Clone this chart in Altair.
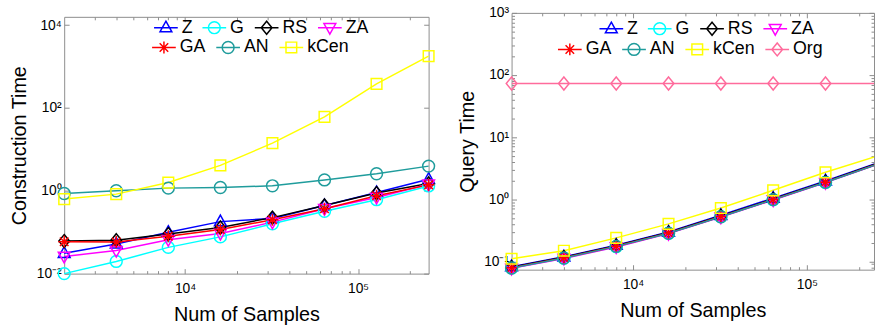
import altair as alt
import pandas as pd

# ---------------- data ----------------
N = [2000, 4000, 8000, 16000, 32000, 64000, 128000, 256000]

SERIES_BUILD = ["Z", "G", "RS", "ZA", "GA", "AN", "kCen"]
SERIES_QUERY = ["Z", "G", "RS", "ZA", "GA", "AN", "kCen", "Org"]
LEGEND_ROW1 = ["Z", "G", "RS", "ZA"]
LEGEND_ROW2_BUILD = ["GA", "AN", "kCen"]
LEGEND_ROW2_QUERY = ["GA", "AN", "kCen", "Org"]

build_Z = [0.031, 0.052, 0.10, 0.18, 0.215, 0.44, 0.91, 1.9]
build_G = [0.010, 0.0197, 0.043, 0.077, 0.16, 0.32, 0.61, 1.31]
build_RS = [0.061, 0.064, 0.090, 0.13, 0.225, 0.44, 0.88, 1.5]
build_ZA = [0.026, 0.036, 0.066, 0.093, 0.175, 0.37, 0.69, 1.44]
build_GA = [0.059, 0.058, 0.080, 0.116, 0.20, 0.37, 0.76, 1.39]
build_AN = [0.86, 1.0, 1.16, 1.2, 1.32, 1.83, 2.58, 3.94]
build_kCen = [0.63, 0.83, 1.58, 4.1, 14.1, 61, 380, 1790]

query_Z = [0.082, 0.118, 0.182, 0.296, 0.55, 1.04, 1.97, 3.85]
query_G = [0.078, 0.112, 0.172, 0.282, 0.52, 0.98, 1.86, 3.66]
query_RS = [0.080, 0.116, 0.178, 0.29, 0.535, 1.01, 1.92, 3.78]
query_ZA = [0.077, 0.111, 0.170, 0.279, 0.515, 0.97, 1.85, 3.64]
query_GA = [0.079, 0.114, 0.175, 0.285, 0.525, 0.99, 1.88, 3.70]
query_AN = [0.078, 0.113, 0.174, 0.283, 0.522, 0.985, 1.87, 3.68]
query_kCen = [0.110, 0.148, 0.238, 0.40, 0.72, 1.39, 2.71, 5.0]
query_Org = [73, 73, 73, 73, 73, 73, 73, 73]

X_MAJOR = [1e4, 1e5]
X_MINOR = [3000, 4000, 5000, 6000, 7000, 8000, 9000,
           20000, 30000, 40000, 50000, 60000, 70000, 80000, 90000, 200000]
Y_MAJOR_BUILD = [1e-2, 1, 1e2, 1e4]
Y_MAJOR_QUERY = [0.1, 1, 10, 100, 1000]
Y_MINOR_QUERY = [0.08, 0.09, 0.2, 0.3, 0.4, 0.5, 0.6, 0.7, 0.8, 0.9,
                 2, 3, 4, 5, 6, 7, 8, 9, 20, 30, 40, 50, 60, 70, 80, 90,
                 200, 300, 400, 500, 600, 700, 800, 900]

COLORS = {"Z": "#0000ff", "G": "#00ffff", "RS": "#000000", "ZA": "#ff00ff",
          "GA": "#ff0000", "AN": "#1f9c9c", "kCen": "#ffff00", "Org": "#ff6b9c"}

TRI_UP = "M0,-1.1L1,0.7L-1,0.7Z"
CIRCLE = "M1,0A1,1,0,1,1,-1,0A1,1,0,1,1,1,0Z"
DIAMOND = "M0,-1.1L0.9,0L0,1.1L-0.9,0Z"
TRI_DN = "M0,1.1L1,-0.7L-1,-0.7Z"
STAR = "M0,-1V1M-1,0H1M-0.72,-0.72L0.72,0.72M-0.72,0.72L0.72,-0.72"
SQUARE = "M-0.9,-0.9H0.9V0.9H-0.9Z"
MARKERS = {"Z": TRI_UP, "G": CIRCLE, "RS": DIAMOND, "ZA": TRI_DN,
           "GA": STAR, "AN": CIRCLE, "kCen": SQUARE, "Org": DIAMOND}
LEG_LINE = "M-2,0H2"

GRAY = "#8c8c8c"
FONT = "Liberation Sans"
LBL = "'10' + ['⁻²','⁻¹','⁰','¹','²','³','⁴','⁵'][round(log(datum.value)/LN10)+2]"


def long_df(names, arrays):
    rows = []
    for name, arr in zip(names, arrays):
        for n, v in zip(N, arr):
            rows.append({"n": n, "v": v, "series": name})
    return pd.DataFrame(rows)


df_build = long_df(SERIES_BUILD, [build_Z, build_G, build_RS, build_ZA,
                                  build_GA, build_AN, build_kCen])
df_query = long_df(SERIES_QUERY, [query_Z, query_G, query_RS, query_ZA,
                                  query_GA, query_AN, query_kCen, query_Org])


def ax(orient, values, size, labels=False, title=None, title_xy=None):
    kw = dict(orient=orient, values=values, tickSize=size, offset=-size,
              domain=False, grid=False, tickColor=GRAY, tickWidth=1,
              labels=labels)
    if labels:
        kw.update(labelExpr=LBL, labelFontSize=14, labelColor="black",
                  labelFont=FONT, labelFlush=False, labelOverlap=False,
                  labelPadding=8 if orient == "bottom" else 3)
    if title:
        kw.update(title=title, titleFontSize=20, titleFontWeight="normal",
                  titleFont=FONT, titleColor="black", titleBaseline="middle",
                  titleX=title_xy[0], titleY=title_xy[1])
    else:
        kw.update(title=None)
    return alt.Axis(**kw)


def legend_layer(base, xs, ys, row, lx, ly):
    cs = alt.Scale(domain=row, range=[COLORS[n] for n in row])
    ls = alt.Scale(domain=row, range=[LEG_LINE + MARKERS[n] for n in row])
    leg = alt.Legend(orient="none", legendX=lx, legendY=ly,
                     direction="horizontal", columns=len(row),
                     gridAlign="none", title=None, labelFontSize=18,
                     labelFont=FONT, labelColor="black", symbolSize=144,
                     symbolStrokeWidth=1.5, labelOffset=7, symbolOpacity=1,
                     columnPadding=7, rowPadding=2, padding=0)
    return base.transform_filter(
        alt.FieldOneOfPredicate(field="series", oneOf=row)
    ).mark_point(filled=False, opacity=0, size=144, strokeWidth=1.5,
                 clip=True).encode(
        x=alt.X("n:Q", scale=xs, axis=None),
        y=alt.Y("v:Q", scale=ys, axis=None),
        color=alt.Color("series:N", scale=cs, legend=leg),
        shape=alt.Shape("series:N", scale=ls, legend=leg),
    )


def panel(df, names, xmax, ydomain, ymajor, yminor, ytitle, width, height,
          rows, legend_pos, clip):
    xs = alt.Scale(type="log", domain=[2000, xmax], nice=False)
    ys = alt.Scale(type="log", domain=ydomain, nice=False)
    cs = alt.Scale(domain=names, range=[COLORS[n] for n in names])
    ss = alt.Scale(domain=names, range=[MARKERS[n] for n in names])
    base = alt.Chart(df)
    lines = base.mark_line(strokeWidth=1.5, clip=clip).encode(
        x=alt.X("n:Q", scale=xs,
                axis=ax("bottom", X_MAJOR, 5, True, "Num of Samples",
                        (width / 2, 46))),
        y=alt.Y("v:Q", scale=ys,
                axis=ax("left", ymajor, 5, True, ytitle, (-50, height / 2))),
        color=alt.Color("series:N", scale=cs, legend=None),
    )
    points = base.transform_filter(alt.datum.n <= xmax).mark_point(
        filled=False, size=144, strokeWidth=1.5, opacity=1).encode(
        x=alt.X("n:Q", scale=xs, axis=ax("bottom", X_MINOR, 3)),
        y=alt.Y("v:Q", scale=ys,
                axis=ax("left", yminor, 3) if yminor else None),
        color=alt.Color("series:N", scale=cs, legend=None),
        shape=alt.Shape("series:N", scale=ss, legend=None),
    )
    dummy_a = base.mark_point(opacity=0, clip=True).encode(
        x=alt.X("n:Q", scale=xs, axis=ax("top", X_MAJOR, 5)),
        y=alt.Y("v:Q", scale=ys, axis=ax("right", ymajor, 5)),
    )
    dummy_b = base.mark_point(opacity=0, clip=True).encode(
        x=alt.X("n:Q", scale=xs, axis=ax("top", X_MINOR, 3)),
        y=alt.Y("v:Q", scale=ys,
                axis=ax("right", yminor, 3) if yminor else None),
    )
    legs = [legend_layer(base, xs, ys, r, p[0], p[1])
            for r, p in zip(rows, legend_pos)]
    return alt.layer(lines, points, dummy_a, dummy_b, *legs
                     ).resolve_axis(x="independent", y="independent"
                     ).resolve_scale(color="independent", shape="independent"
                     ).properties(width=width, height=height)


left = panel(df_build, SERIES_BUILD, 256000, [0.01, 15850], Y_MAJOR_BUILD,
             None, "Construction Time", 369, 260,
             [LEGEND_ROW1, LEGEND_ROW2_BUILD], [(94, 2), (92, 22)], False)
right = panel(df_query, SERIES_QUERY, 243400, [0.0733, 1000], Y_MAJOR_QUERY,
              Y_MINOR_QUERY, "Query Time", 367, 260,
              [LEGEND_ROW1, LEGEND_ROW2_QUERY], [(92, 7), (50, 28)], True)

spacer = alt.Chart(pd.DataFrame({"a": [0]})).mark_point(opacity=0).encode(
    x=alt.value(0), y=alt.value(0)).properties(
    width=369, height=4, view=alt.ViewBackground(stroke="transparent"))

left_col = alt.vconcat(spacer, left, spacing=0, bounds="flush")

chart = alt.hconcat(left_col, right, spacing=18).resolve_scale(
    color="independent", shape="independent").properties(
    padding={"left": 9, "top": 3, "right": 0, "bottom": 0}
).configure(font=FONT).configure_view(stroke=GRAY, strokeWidth=1)

chart.save("out.html", embed_options={"renderer": "svg", "actions": False})
